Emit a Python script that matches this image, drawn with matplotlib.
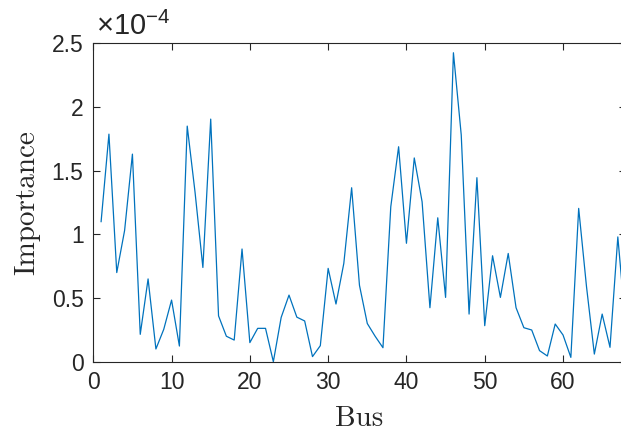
import numpy as np
import matplotlib
matplotlib.use("Agg")
import matplotlib.pyplot as plt
from matplotlib.ticker import FuncFormatter

# bus index and importance (units of 1e-4)
bus = np.arange(1, 69)
importance = np.array([
    1.10, 1.787, 0.70, 1.03, 1.63, 0.215, 0.65, 0.10, 0.254, 0.484,
    0.123, 1.85, 1.33, 0.74, 1.905, 0.36, 0.20, 0.17, 0.885, 0.15,
    0.262, 0.262, 0.0, 0.348, 0.523, 0.35, 0.32, 0.04, 0.126, 0.733,
    0.453, 0.772, 1.366, 0.60, 0.30, 0.20, 0.11, 1.217, 1.688, 0.93,
    1.60, 1.256, 0.424, 1.13, 0.505, 2.426, 1.78, 0.374, 1.445, 0.283,
    0.832, 0.505, 0.85, 0.424, 0.267, 0.249, 0.087, 0.045, 0.296, 0.21,
    0.034, 1.204, 0.589, 0.06, 0.374, 0.113, 0.98, 0.28,
]) * 1e-4

xticks = [0, 10, 20, 30, 40, 50, 60]
yticks = np.array([0, 0.5, 1, 1.5, 2, 2.5]) * 1e-4
scale = 1e-4

plt.rcParams['font.family'] = ['Liberation Sans', 'DejaVu Sans']
plt.rcParams['mathtext.fontset'] = 'custom'
plt.rcParams['mathtext.rm'] = 'Liberation Sans'
plt.rcParams['mathtext.it'] = 'Liberation Sans:italic'

axcol = '#262626'
fig = plt.figure(figsize=(6.21, 4.32), dpi=100)
ax = fig.add_axes([0.1502, 0.1627, 0.8573, 0.737])

ax.plot(bus, importance, color='#0072BD', lw=0.9)

ax.set_xlim(0, 68)
ax.set_ylim(0, 2.5e-4)
ax.set_xticks(xticks)
ax.set_yticks(yticks)
# matlab-style tick labels with exponent shown once on top
ax.yaxis.set_major_formatter(FuncFormatter(lambda v, p: '%g' % round(v / scale, 6)))
ax.text(0.005, 1.027, r'$\times10^{-4}$', transform=ax.transAxes,
        fontsize=21, color=axcol, ha='left', va='baseline')

ax.tick_params(direction='in', length=5, width=0.8, colors=axcol,
               labelsize=16.5, top=True, right=True, pad=7)
for sp in ax.spines.values():
    sp.set_color(axcol)
    sp.set_linewidth(0.8)

ax.set_xlabel('Bus', fontfamily='cmr10', fontsize=21, color=axcol, labelpad=8)
ax.set_ylabel('Importance', fontfamily='cmr10', fontsize=21, color=axcol, labelpad=8)

fig.savefig('out.png', dpi=100)
